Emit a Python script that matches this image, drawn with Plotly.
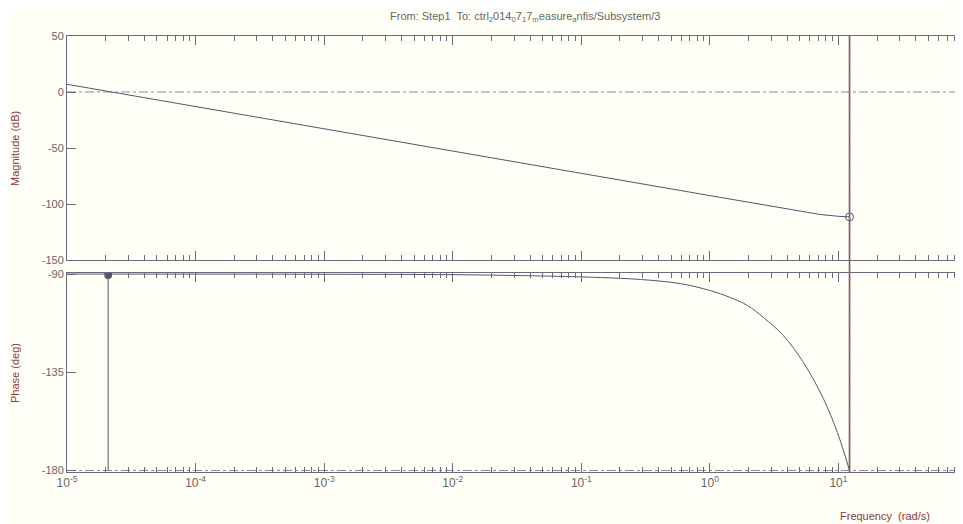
import plotly.graph_objects as go

# ---------------- data ----------------
mag_freq = [1e-5, 1e-4, 1e-3, 1e-2, 1e-1, 1.0, 3.16, 7.24, 10.0, 12.2]
mag_db = [6.9, -13.1, -33.1, -53.1, -73.0, -92.5, -102.3, -109.4, -111.0, -111.5]

phase_freq = [1e-5, 1e-3, 1e-2, 0.05, 0.141, 0.288, 0.589, 1.01, 1.445, 1.96,
              2.61, 3.73, 5.35, 7.64, 9.82, 12.2]
phase_deg = [-90.0, -90.1, -90.3, -90.9, -91.6, -92.5, -94.4, -97.6, -100.8, -104.4,
             -109.9, -118.2, -130.6, -147.1, -162.6, -180.0]

gm_freq = 12.2      # gain-margin frequency (rad/s)
gm_db = -111.5
pm_freq = 2.09e-5   # phase-margin (0 dB crossover) frequency
pm_phase = -90.5
phase_floor = -180

x_tickvals = [1e-5, 1e-4, 1e-3, 1e-2, 1e-1, 1, 10, 100]
x_ticktext = ["10<sup>-5</sup>", "10<sup>-4</sup>", "10<sup>-3</sup>", "10<sup>-2</sup>",
              "10<sup>-1</sup>", "10<sup>0</sup>", "10<sup>1</sup>", "10<sup>2</sup>"]
mag_ticks = [-150, -100, -50, 0, 50]
phase_ticks = [-180, -135, -90]

title_text = ("From: Step1  To: ctrl<sub>2</sub>014<sub>0</sub>7<sub>1</sub>7<sub>m</sub>"
              "easure<sub>a</sub>nfis/Subsystem/3")

# ---------------- styling ----------------
BG = "#fffff7"
CURVE = "#55556b"
AXIS = "#6a6a7c"
TXT = "#666666"
LBL = "#8a3c3c"
FONT = "Liberation Sans, Arial, sans-serif"

OFF = 8                     # default page body margin
L, R, T, B = 67 - OFF, 0, 36 - OFF, 52
W, H = L + 900, 524 - OFF   # axes run slightly past the window edge, as in the reference
plot_w = W - L - R
plot_h = H - T - B


def px(xw):
    return (xw - OFF - L) / plot_w


def py(yw):
    return (H - B - (yw - OFF)) / plot_h


minor_vals = [m * 10 ** e for e in range(-5, 2) for m in range(2, 10)]

fig = go.Figure()

fig.add_trace(go.Scatter(x=mag_freq, y=mag_db, mode="lines",
                         line=dict(color=CURVE, width=1),
                         xaxis="x2", yaxis="y2", showlegend=False, hoverinfo="skip"))
fig.add_trace(go.Scatter(x=[gm_freq], y=[gm_db], mode="markers",
                         marker=dict(symbol="circle-open", size=8, color=CURVE,
                                     line=dict(width=1, color=CURVE)),
                         xaxis="x2", yaxis="y2", showlegend=False, hoverinfo="skip"))

fig.add_trace(go.Scatter(x=phase_freq, y=phase_deg, mode="lines",
                         line=dict(color=CURVE, width=1, shape="spline"),
                         xaxis="x", yaxis="y", showlegend=False, hoverinfo="skip"))
fig.add_trace(go.Scatter(x=[pm_freq, pm_freq], y=[pm_phase, phase_floor], mode="lines",
                         line=dict(color=CURVE, width=1),
                         xaxis="x", yaxis="y", showlegend=False, hoverinfo="skip"))
fig.add_trace(go.Scatter(x=[pm_freq], y=[pm_phase], mode="markers",
                         marker=dict(symbol="circle", size=8, color=CURVE),
                         xaxis="x", yaxis="y", showlegend=False, hoverinfo="skip"))

shapes = [
    dict(type="line", xref="x2 domain", yref="y2", x0=0, x1=1, y0=0, y1=0,
         line=dict(color="#8c8c8c", width=1, dash="dashdot"), layer="below"),
    dict(type="line", xref="x domain", yref="y", x0=0, x1=1, y0=phase_floor, y1=phase_floor,
         line=dict(color="#8c8c8c", width=1, dash="dashdot"), layer="below"),
    dict(type="line", xref="x", yref="paper", x0=gm_freq, x1=gm_freq,
         y0=0, y1=1, line=dict(color="#55556b", width=1.5)),
    dict(type="line", xref="x", yref="paper", x0=gm_freq, x1=gm_freq,
         y0=0, y1=1, line=dict(color="#e05050", width=1.5, dash="dot")),
]

xcommon = dict(type="log", range=[-5, 2], showgrid=False, zeroline=False,
               showline=True, linecolor=AXIS, linewidth=1, mirror="ticks",
               ticks="inside", ticklen=9, tickcolor=AXIS, tickwidth=1,
               tickvals=x_tickvals, ticktext=x_ticktext,
               minor=dict(ticks="inside", ticklen=5, tickcolor=AXIS, tickwidth=1,
                          tickvals=minor_vals, showgrid=False),
               tickfont=dict(family=FONT, size=12, color=TXT))
ycommon = dict(showgrid=False, zeroline=False, showline=True, linecolor=AXIS, linewidth=1,
               mirror="ticks", ticks="inside", ticklen=9, tickcolor=AXIS, tickwidth=1,
               tickfont=dict(family=FONT, size=11, color=TXT))

fig.update_layout(
    width=W, height=H,
    margin=dict(l=L, r=R, t=T, b=B, pad=0),
    paper_bgcolor=BG, plot_bgcolor=BG,
    showlegend=False,
    xaxis=dict(**xcommon, anchor="y", showticklabels=True),
    xaxis2=dict(**xcommon, anchor="y2", matches="x", showticklabels=False),
    yaxis=dict(**ycommon, domain=[0, py(272.5)], range=[-180.7, -89.3],
               tickvals=phase_ticks, ticktext=[str(v) for v in phase_ticks]),
    yaxis2=dict(**ycommon, domain=[py(260), 1], range=[-150, 50],
                tickvals=mag_ticks, ticktext=[str(v) for v in mag_ticks]),
    shapes=shapes,
    annotations=[
        dict(text=title_text, xref="paper", yref="paper", x=px(525), y=py(17),
             xanchor="center", yanchor="middle", showarrow=False,
             font=dict(family=FONT, size=11, color=TXT)),
        dict(text="Magnitude (dB)", xref="paper", yref="paper", x=px(15), y=py(149),
             textangle=-90, xanchor="center", yanchor="middle", showarrow=False,
             font=dict(family=FONT, size=11, color=LBL)),
        dict(text="Phase (deg)", xref="paper", yref="paper", x=px(15), y=py(373),
             textangle=-90, xanchor="center", yanchor="middle", showarrow=False,
             font=dict(family=FONT, size=11, color=LBL)),
        dict(text="Frequency  (rad/s)", xref="paper", yref="paper", x=px(885), y=py(516),
             xanchor="center", yanchor="middle", showarrow=False,
             font=dict(family=FONT, size=11, color=LBL)),
    ],
)

fig.write_html("out.html")
